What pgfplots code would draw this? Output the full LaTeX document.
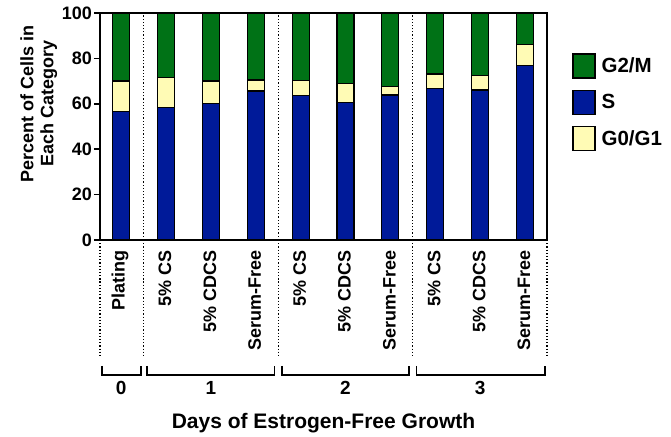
\documentclass[border=0pt]{standalone}
\usepackage{fontspec}
\setmainfont{Liberation Sans}
\usepackage{pgfplots}
\pgfplotsset{compat=1.18}

\definecolor{gtwom}{RGB}{0,114,22}
\definecolor{sphase}{RGB}{0,26,153}
\definecolor{gzero}{RGB}{255,251,181}
\newcommand{\fs}[1]{\bfseries\fontsize{#1}{#1}\selectfont}

\pgfplotsset{
  sqleg/.style={legend image code/.code={
    \draw[##1, draw=black, line width=1.4bp] (0bp,-12bp) rectangle (22bp,12bp);}},
}

\begin{document}
\begin{tikzpicture}
\begin{axis}[
  scale only axis, width=447bp, height=227bp,
  xmin=-0.47, xmax=9.49, ymin=0, ymax=100,
  ybar stacked, bar width=17bp,
  clip=false,
  axis line style={line width=1.6bp},
  tick align=outside, major tick length=6bp,
  tick style={line width=1.6bp, black},
  ytick={0,20,...,100}, ytick pos=left,
  xtick={0,...,9}, xtick pos=bottom,
  xtick style={draw=none},
  xticklabels={Plating,5\% CS,5\% CDCS,Serum-Free,5\% CS,5\% CDCS,Serum-Free,5\% CS,5\% CDCS,Serum-Free},
  xticklabel style={yshift=-2bp, xshift=-1bp, rotate=90, anchor=east, font=\fs{18bp}, inner sep=2bp},
  yticklabel style={font=\fs{18bp}, inner sep=2bp},
  /pgf/number format/assume math mode=true,
  ylabel={Percent of Cells in\\Each Category},
  ylabel style={align=center, font=\bfseries\fontsize{18bp}{20bp}\selectfont,
    at={(rel axis cs:-0.137,0.6)}, anchor=center},
  xlabel={Days of Estrogen-Free Growth},
  xlabel style={at={(rel axis cs:0.5,0)}, anchor=center, yshift=-183bp, font=\fs{21bp}},
  legend style={draw=none, fill=none, at={(rel axis cs:1,1)}, anchor=north west,
    xshift=25bp, yshift=-40bp, inner sep=0pt, row sep=11bp, font=\fs{20.5bp},
    /tikz/every odd column/.append style={column sep=4bp}},
  legend cell align=left,
]
% legend order as in the figure
\addlegendimage{fill=gtwom, sqleg}
\addlegendimage{fill=sphase, sqleg}
\addlegendimage{fill=gzero, sqleg}
\legend{G2/M,S,G0/G1}

% S phase (bottom), G0/G1 (middle), G2/M (top)
\addplot[fill=sphase, draw=black, line width=1.2bp, forget plot] coordinates {
  (0,56.5) (1,58.4) (2,60.0) (3,65.6) (4,63.7) (5,60.6) (6,63.9) (7,66.8) (8,66.1) (9,76.7)};
\addplot[fill=gzero, draw=black, line width=1.2bp, forget plot] coordinates {
  (0,13.5) (1,13.1) (2,10.0) (3,4.9) (4,6.7) (5,8.2) (6,3.6) (7,6.3) (8,6.3) (9,9.3)};
\addplot[fill=gtwom, draw=black, line width=1.2bp, forget plot] coordinates {
  (0,30.0) (1,28.5) (2,30.0) (3,29.5) (4,29.6) (5,31.2) (6,32.5) (7,26.9) (8,27.6) (9,14.0)};

% group separators
\draw[dotted, line width=1.2bp] (axis cs:0.5,0) -- (axis cs:0.5,100);
\draw[dotted, line width=1.2bp] (axis cs:3.5,0) -- (axis cs:3.5,100);
\draw[dotted, line width=1.2bp] (axis cs:6.5,0) -- (axis cs:6.5,100);
\draw[dotted, line width=1.2bp] (rel axis cs:0,0) -- ([yshift=-118bp]rel axis cs:0,0);
\draw[dotted, line width=1.2bp] (axis cs:0.5,0) -- ([yshift=-118bp]axis cs:0.5,0);
\draw[dotted, line width=1.2bp] (axis cs:3.5,0) -- ([yshift=-118bp]axis cs:3.5,0);
\draw[dotted, line width=1.2bp] (axis cs:6.5,0) -- ([yshift=-118bp]axis cs:6.5,0);
\draw[dotted, line width=1.2bp] (rel axis cs:1,0) -- ([yshift=-118bp]rel axis cs:1,0);

% day brackets
\draw[line width=1.6bp] ([yshift=-126bp]axis cs:-0.43,0) -- ([yshift=-135bp]axis cs:-0.43,0)
  -- ([yshift=-135bp]axis cs:0.44,0) -- ([yshift=-126bp]axis cs:0.44,0);
\draw[line width=1.6bp] ([yshift=-126bp]axis cs:0.58,0) -- ([yshift=-135bp]axis cs:0.58,0)
  -- ([yshift=-135bp]axis cs:3.42,0) -- ([yshift=-126bp]axis cs:3.42,0);
\draw[line width=1.6bp] ([yshift=-126bp]axis cs:3.58,0) -- ([yshift=-135bp]axis cs:3.58,0)
  -- ([yshift=-135bp]axis cs:6.42,0) -- ([yshift=-126bp]axis cs:6.42,0);
\draw[line width=1.6bp] ([yshift=-126bp]axis cs:6.58,0) -- ([yshift=-135bp]axis cs:6.58,0)
  -- ([yshift=-135bp]axis cs:9.44,0) -- ([yshift=-126bp]axis cs:9.44,0);
\node[font=\fs{19bp}] at ([yshift=-148bp]axis cs:0,0) {0};
\node[font=\fs{19bp}] at ([yshift=-148bp]axis cs:2,0) {1};
\node[font=\fs{19bp}] at ([yshift=-148bp]axis cs:5,0) {2};
\node[font=\fs{19bp}] at ([yshift=-148bp]axis cs:8,0) {3};

% page size
\path ([xshift=-100bp,yshift=-191bp]rel axis cs:0,0) rectangle ([xshift=124bp,yshift=13bp]rel axis cs:1,1);
\end{axis}
\end{tikzpicture}
\end{document}
